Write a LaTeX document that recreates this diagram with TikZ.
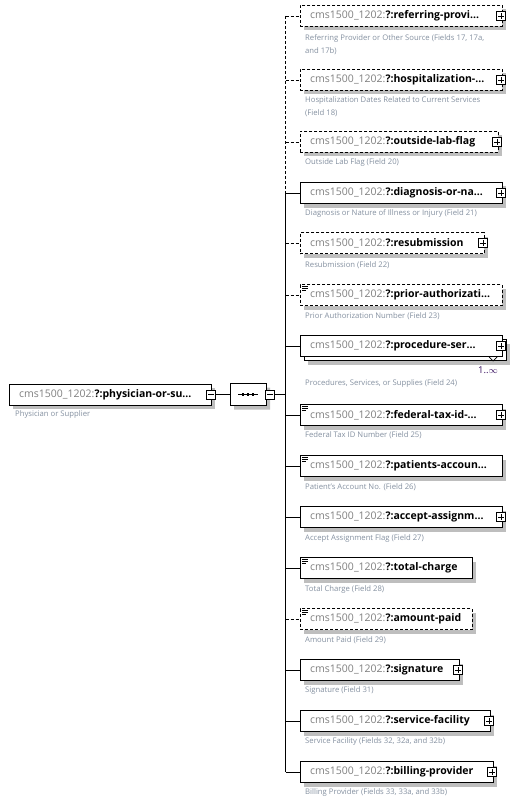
\documentclass[tikz,border=0pt]{standalone}
\usepackage{fontspec}
\setmainfont{Open Sans}
\usetikzlibrary{shapes.misc,shadows}
\definecolor{nsgray}{RGB}{128,128,128}
\definecolor{descgray}{RGB}{132,144,160}
\definecolor{shadowgray}{RGB}{190,190,190}
\definecolor{occ}{RGB}{56,16,96}
\tikzset{
  x=1pt, y=-1pt,
  lw/.style={line width=0.9pt},
  elbox/.style={lw, draw=black, fill=white, minimum height=21pt, inner sep=0pt, anchor=west,
    general shadow={fill=shadowgray, shadow xshift=4pt, shadow yshift=-4pt}},
  optbox/.style={elbox, dash pattern=on 3pt off 2pt},
  plainbox/.style={lw, draw=black, fill=white, minimum height=21pt, inner sep=0pt, anchor=west},
  lbl/.style={anchor=west, inner sep=0pt, font=\fontsize{10.5}{12}\selectfont},
  desc/.style={anchor=north west, inner sep=0pt, font=\fontsize{7.7}{13}\selectfont, text=descgray, align=left},
  iconbox/.style={lw, draw=black, fill=white, minimum size=9pt, inner sep=0pt},
  conn/.style={lw, draw=black},
  optconn/.style={conn, dash pattern=on 3pt off 2pt},
}
\newcommand\plusicon[3]{%
  \node[iconbox] (#1) at (#2,#3) {};
  \draw[line width=0.8pt] (#1.center) +(-2.8,0) -- +(2.8,0) (#1.center) +(0,-2.8) -- +(0,2.8);}
\newcommand\minusicon[3]{%
  \node[iconbox] (#1) at (#2,#3) {};
  \draw[line width=0.8pt] (#1.center) +(-2.8,0) -- +(2.8,0);}
\newcommand\linesicon[1]{%
  \draw[line width=0.7pt] (#1.north west) +(2,2.5) -- +(8,2.5) +(2,4.5) -- +(8,4.5) +(2,6.5) -- +(6,6.5);}
% #1 id, #2 cy, #3 width, #4 style, #5 name, #6 desc, #7 desc centre y
\newcommand\elem[7]{%
  \node[#4, minimum width=#3pt] (#1) at (300,#2) {};
  \node[lbl] (#1-t) at (310,#2) {{\color{nsgray}cms1500\_1202:}\textbf{?:#5}};
  \node[desc] (#1-d) at (305,#7-5.5) {#6};}
\begin{document}
\begin{tikzpicture}
\useasboundingbox (0,0) rectangle (519,805);
% root
\node[elbox, minimum width=202pt] (root) at (9,394.5) {};
\node[lbl] (root-t) at (19,394.5) {{\color{nsgray}cms1500\_1202:}\textbf{?:physician-or-su...}};
\node[desc] (root-d) at (15,416-5.5) {Physician or Supplier};
\minusicon{rootminus}{211}{394.5}
% sequence compositor
\node[lw, draw=black, fill=white, chamfered rectangle, chamfered rectangle xsep=6pt, chamfered rectangle ysep=6pt,
      minimum width=36pt, minimum height=22pt, inner sep=0pt,
      general shadow={fill=shadowgray, shadow xshift=4pt, shadow yshift=-4pt}] (seq) at (248,394.5) {};
\draw[line width=0.9pt] (seq.center) +(-10,0) -- +(10,0);
\foreach \dx in {-5,0,5} \fill (seq.center) +(\dx-1.3,-1.3) rectangle +(\dx+1.3,1.3);
\minusicon{seqminus}{270}{394.5}
\draw[conn] (rootminus.east) -- (seq.west);
% vertical bus coordinates
\coordinate (vc) at (285.5,394.5);
\foreach \i/\y in {1/16,2/80,3/142,4/193,5/243,6/295,7/346,8/415,9/466,10/517,11/568,12/619,13/670,14/721,15/772}
  \coordinate (v\i) at (285.5,\y);
\draw[conn] (seqminus.east) -- (vc);
% vertical bus
\draw[optconn] (v1) -- (v2) -- (v3) -- (v4);
\draw[conn] (v4) -- (v7) -- (vc) -- (v15);
% children
\elem{c1}{16}{202}{optbox}{referring-provi...}{Referring Provider or Other Source (Fields 17, 17a,\\and 17b)}{40}
\plusicon{c1p}{501}{16}
\elem{c2}{80}{202}{optbox}{hospitalization-...}{Hospitalization Dates Related to Current Services\\(Field 18)}{102}
\plusicon{c2p}{501}{80}
\elem{c3}{142}{198}{optbox}{outside-lab-flag}{Outside Lab Flag (Field 20)}{164}
\plusicon{c3p}{497}{142}
\elem{c4}{193}{202}{elbox}{diagnosis-or-na...}{Diagnosis or Nature of Illness or Injury (Field 21)}{215}
\plusicon{c4p}{501}{193}
\elem{c5}{243}{184}{optbox}{resubmission}{Resubmission (Field 22)}{267}
\plusicon{c5p}{483}{243}
\elem{c6}{295}{202}{optbox}{prior-authorizati...}{Prior Authorization Number (Field 23)}{318}
\linesicon{c6}
% procedure (multiple occurrence)
\node[elbox, minimum width=202pt] (c7b) at (304,350) {};
\node[plainbox, minimum width=202pt] (c7) at (300,346) {};
\node[lbl] (c7-t) at (310,346) {{\color{nsgray}cms1500\_1202:}\textbf{?:procedure-ser...}};
\node[desc] (c7-d) at (305,385-5.5) {Procedures, Services, or Supplies (Field 24)};
\plusicon{c7p}{501}{346}
\draw[line width=0.7pt] (489,357) -- (493,361) -- (497,357);
\node[anchor=base east, inner sep=0pt, text=occ, font=\fontsize{9.5}{11}\selectfont] (c7-occ) at (498,373) {1..$\infty$};
\elem{c8}{415}{202}{elbox}{federal-tax-id-...}{Federal Tax ID Number (Field 25)}{437}
\plusicon{c8p}{501}{415}
\linesicon{c8}
\elem{c9}{466}{202}{elbox}{patients-accoun...}{Patient's Account No. (Field 26)}{489}
\linesicon{c9}
\elem{c10}{517}{202}{elbox}{accept-assignm...}{Accept Assignment Flag (Field 27)}{540}
\plusicon{c10p}{501}{517}
\elem{c11}{568}{172}{elbox}{total-charge}{Total Charge (Field 28)}{591}
\linesicon{c11}
\elem{c12}{619}{172}{optbox}{amount-paid}{Amount Paid (Field 29)}{642}
\linesicon{c12}
\elem{c13}{670}{159}{elbox}{signature}{Signature (Field 31)}{692}
\plusicon{c13p}{458}{670}
\elem{c14}{721}{190}{elbox}{service-facility}{Service Facility (Fields 32, 32a, and 32b)}{743}
\plusicon{c14p}{489}{721}
\elem{c15}{772}{193}{elbox}{billing-provider}{Billing Provider (Fields 33, 33a, and 33b)}{794}
\plusicon{c15p}{492}{772}
% connectors to children
\draw[optconn] (v1) -- (c1.west);
\draw[optconn] (v2) -- (c2.west);
\draw[optconn] (v3) -- (c3.west);
\draw[conn] (v4) -- (c4.west);
\draw[optconn] (v5) -- (c5.west);
\draw[optconn] (v6) -- (c6.west);
\draw[conn] (v7) -- (c7.west);
\draw[conn] (v8) -- (c8.west);
\draw[conn] (v9) -- (c9.west);
\draw[conn] (v10) -- (c10.west);
\draw[conn] (v11) -- (c11.west);
\draw[optconn] (v12) -- (c12.west);
\draw[conn] (v13) -- (c13.west);
\draw[conn] (v14) -- (c14.west);
\draw[conn] (v15) -- (c15.west);
\end{tikzpicture}
\end{document}
